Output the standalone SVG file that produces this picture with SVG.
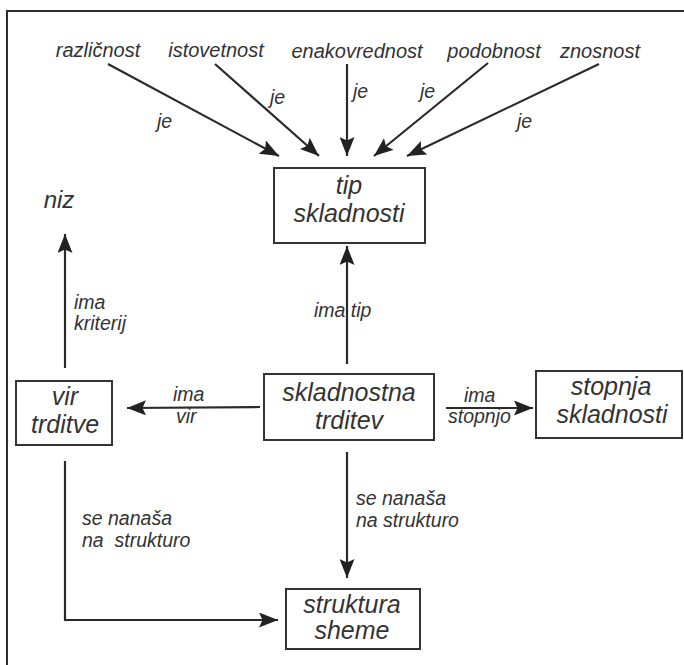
<svg xmlns="http://www.w3.org/2000/svg" width="684" height="665" viewBox="0 0 684 665">
  <style>
    .frame { fill: none; stroke: #2e2e2e; stroke-width: 2; }
    .box { fill: #ffffff; stroke: #333333; stroke-width: 2; }
    .edge { fill: none; stroke: #2a2a2a; stroke-width: 2.2; }
    text { font-family: "Liberation Sans", Arial, sans-serif; font-style: italic; fill: #333333; }
    .node { font-size: 25px; text-anchor: middle; }
    .concept { font-size: 20px; text-anchor: middle; }
    .lbl { font-size: 19.5px; }
  </style>
  <defs>
    <marker id="arrow" viewBox="0 0 19 15" refX="19" refY="7.5" markerWidth="19" markerHeight="15" markerUnits="userSpaceOnUse" orient="auto">
      <path d="M0,0 L19,7.5 L0,15 L3.5,7.5 Z" fill="#222222"/>
    </marker>
  </defs>

  <rect width="684" height="665" fill="#ffffff"/>
  <!-- outer frame (only left and top edges fall inside the canvas) -->
  <path class="frame" d="M7,665 V11 H684"/>

  <!-- connectors -->
  <g id="connectors">
    <line class="edge" x1="108" y1="64" x2="279" y2="156" marker-end="url(#arrow)"/>
    <line class="edge" x1="215" y1="64" x2="319" y2="156" marker-end="url(#arrow)"/>
    <line class="edge" x1="347" y1="64" x2="347" y2="156" marker-end="url(#arrow)"/>
    <line class="edge" x1="488" y1="63" x2="374" y2="156" marker-end="url(#arrow)"/>
    <line class="edge" x1="599" y1="64" x2="407" y2="156" marker-end="url(#arrow)"/>
    <text class="lbl" x="157" y="128">je</text>
    <text class="lbl" x="270" y="104">je</text>
    <text class="lbl" x="353" y="98">je</text>
    <text class="lbl" x="420" y="98">je</text>
    <text class="lbl" x="517" y="128">je</text>

    <!-- vir trditve -> niz -->
    <line class="edge" x1="65" y1="368" x2="65" y2="234" marker-end="url(#arrow)"/>
    <text class="lbl" x="74" y="309">ima</text>
    <text class="lbl" x="74" y="330">kriterij</text>

    <!-- skladnostna trditev -> tip skladnosti -->
    <line class="edge" x1="347" y1="364" x2="347" y2="246" marker-end="url(#arrow)"/>
    <text class="lbl" x="314" y="317">ima tip</text>

    <!-- skladnostna trditev -> vir trditve -->
    <line class="edge" x1="260" y1="407" x2="127" y2="408" marker-end="url(#arrow)"/>
    <text class="lbl" x="173" y="401">ima</text>
    <text class="lbl" x="176" y="423">vir</text>

    <!-- skladnostna trditev -> stopnja skladnosti -->
    <line class="edge" x1="446" y1="408" x2="533" y2="408" marker-end="url(#arrow)"/>
    <text class="lbl" x="464" y="402">ima</text>
    <text class="lbl" x="448" y="423">stopnjo</text>

    <!-- skladnostna trditev -> struktura sheme -->
    <line class="edge" x1="347" y1="452" x2="347" y2="578" marker-end="url(#arrow)"/>
    <text class="lbl" x="356" y="505">se nanaša</text>
    <text class="lbl" x="356" y="527">na strukturo</text>

    <!-- vir trditve -> struktura sheme -->
    <path class="edge" d="M65,461 V620 H278" marker-end="url(#arrow)"/>
    <text class="lbl" x="82" y="525">se nanaša</text>
    <text class="lbl" x="82" y="547" xml:space="preserve">na  strukturo</text>
  </g>

  <!-- concept labels -->
  <g id="razlicnost"><text class="concept" x="98" y="57">različnost</text></g>
  <g id="istovetnost"><text class="concept" x="216" y="57">istovetnost</text></g>
  <g id="enakovrednost"><text class="concept" x="357" y="58">enakovrednost</text></g>
  <g id="podobnost"><text class="concept" x="494" y="58">podobnost</text></g>
  <g id="znosnost"><text class="concept" x="600" y="58">znosnost</text></g>
  <g id="niz"><text class="concept" x="59" y="208" style="font-size:24px">niz</text></g>

  <g id="tip-skladnosti">
    <rect class="box" x="274" y="168" width="151" height="75"/>
    <text class="node" x="349" y="194">tip</text>
    <text class="node" x="349" y="222">skladnosti</text>
  </g>

  <g id="vir-trditve">
    <rect class="box" x="16" y="381" width="96" height="64"/>
    <text class="node" x="65" y="405">vir</text>
    <text class="node" x="65" y="433">trditve</text>
  </g>

  <g id="skladnostna-trditev">
    <rect class="box" x="264" y="374" width="170" height="66"/>
    <text class="node" x="349" y="401">skladnostna</text>
    <text class="node" x="349" y="429">trditev</text>
  </g>

  <g id="stopnja-skladnosti">
    <rect class="box" x="536" y="371" width="146" height="67"/>
    <text class="node" x="611" y="395">stopnja</text>
    <text class="node" x="612" y="423">skladnosti</text>
  </g>

  <g id="struktura-sheme">
    <rect class="box" x="286" y="589" width="134" height="60"/>
    <text class="node" x="352" y="613">struktura</text>
    <text class="node" x="352" y="639">sheme</text>
  </g>
</svg>
